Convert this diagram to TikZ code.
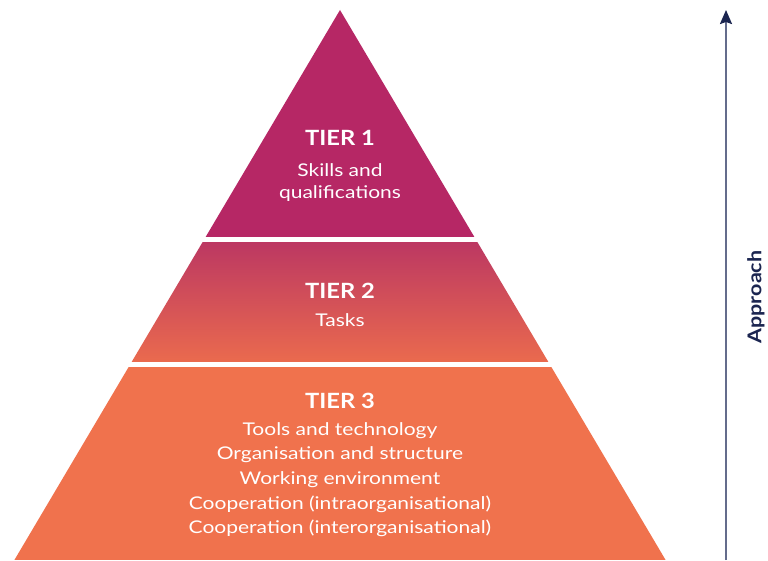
\documentclass[tikz,border=0pt]{standalone}
\usepackage{fontspec}
\setmainfont{Lato}[FakeStretch=1.2]
\newfontfamily\headfont{Lato}[FakeStretch=1.13]
\usetikzlibrary{arrows.meta}

\definecolor{tierone}{HTML}{B62765}
\definecolor{tiertwotop}{HTML}{BC3862}
\definecolor{tiertwobot}{HTML}{EA6A4E}
\definecolor{tierthree}{HTML}{F0724D}
\definecolor{axisline}{HTML}{646C8C}
\definecolor{navy}{HTML}{1B2550}

\tikzset{
  head/.style={anchor=base, inner sep=0pt, text=white,
    font=\headfont\fontsize{21}{25}\selectfont\bfseries},
  body/.style={anchor=base, inner sep=0pt, text=white,
    font=\fontsize{17.5}{22}\selectfont},
}

\begin{document}
\begin{tikzpicture}[x=1pt,y=1pt]
  % canvas
  \fill[white] (0,0) rectangle (768,560);
  \useasboundingbox (0,0) rectangle (768,560);

  % pyramid outline: apex and base corners
  \coordinate (apex) at (340,550);
  \coordinate (baseL) at (14.4,0);
  \coordinate (baseR) at (665.6,0);

  \begin{scope}
    \clip (apex) -- (baseR) -- (baseL) -- cycle;
    % tier 1
    \fill[tierone] (0,322.5) rectangle (768,560);
    % tier 2 with vertical gradient
    \shade[top color=tiertwotop, bottom color=tiertwobot]
      (0,198.5) rectangle (768,317.5);
    % tier 3
    \fill[tierthree] (0,0) rectangle (768,193.5);
  \end{scope}

  % tier 1 labels
  \node[head] (t1) at (340,414) {TIER 1};
  \node[body] (t1a) at (340,383.3) {Skills and};
  \node[body] (t1b) at (340,361) {qualifications};

  % tier 2 labels
  \node[head] (t2) at (340,261) {TIER 2};
  \node[body] (t2a) at (340,233.3) {Tasks};

  % tier 3 labels
  \node[head] (t3) at (340,152) {TIER 3};
  \node[body] (t3a) at (340,125) {Tools and technology};
  \node[body] (t3b) at (340,100.5) {Organisation and structure};
  \node[body] (t3c) at (340,76) {Working environment};
  \node[body] (t3d) at (340,51) {Cooperation (intraorganisational)};
  \node[body] (t3e) at (340,26.5) {Cooperation (interorganisational)};

  % approach axis
  \coordinate (axisbot) at (726,0);
  \coordinate (axistop) at (726,550);
  \draw[axisline, line width=2pt,
        -{Stealth[length=14pt,width=12pt,inset=2pt,color=navy]}]
    (axisbot) -- (axistop);
  \node[rotate=90, text=navy, inner sep=0pt,
        font=\headfont\fontsize{19}{22}\selectfont\bfseries] (appr) at (756,263) {Approach};
\end{tikzpicture}
\end{document}
